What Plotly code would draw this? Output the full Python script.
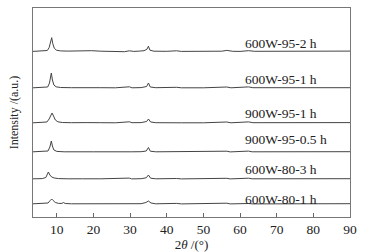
import plotly.graph_objects as go

labels = ["600W-95-2 h", "600W-95-1 h", "900W-95-1 h", "900W-95-0.5 h", "600W-80-3 h", "600W-80-1 h"]
offsets = [165.3, 129, 94, 65, 38, 13]
label_y = [174, 138, 104, 78, 48, 18]
x_ticks = [10, 20, 30, 40, 50, 60, 70, 80, 90]

s1 = [(3.5,0.3),(6,0.5),(7.4,1.2),(7.9,4),(8.3,10),(8.6,14),(8.9,8),(9.3,3.5),(9.9,1.5),(11,0.8),(13,0.6),(15,0.7),(17,1.1),(18.2,1.6),(19.5,1.0),(22,0.5),(25,0.2),(27,0.6),(28.5,0.0),(29.8,0.9),(31,0.3),(32.5,0.6),(33.8,1.0),(34.6,2.5),(35.0,5.5),(35.4,1.5),(36.5,0.5),(40,0.4),(42.7,0.9),(44,0.3),(48,0.2),(52,0.3),(55,0.5),(56.4,1.3),(58,0.4),(60,0.3),(62.3,1.0),(64,0.4),(68,0.5),(72,0.3),(76,0.6),(80,0.3),(84,0.7),(87,0.4),(90,0.6)]
s2 = [(3.5,0.2),(6,0.3),(7.5,1),(8.0,5),(8.3,11),(8.5,15),(8.8,8),(9.2,3),(9.8,1.2),(11,0.5),(14,0.3),(18,0.6),(22,0.3),(26,0.2),(29.8,1.2),(30.5,0.2),(33,0.4),(34.5,1.5),(35.0,5),(35.5,1),(37,0.3),(42.7,0.7),(44,0.2),(50,0.2),(56.4,1),(57.5,0.2),(62.3,1.1),(63.5,0.3),(70,0.2),(80,0.3),(90,0.3)]
s3 = [(3.5,0.2),(6,0.3),(7.3,1),(7.9,4),(8.4,8.5),(8.7,10),(9.1,7),(9.6,3),(10.3,1.2),(11.5,0.5),(14,0.3),(16,0.6),(18,0.4),(22,0.3),(26,0.2),(29.8,1.2),(30.5,0.3),(33,0.4),(34.5,1.5),(35.0,4),(35.6,1),(37,0.3),(42.7,0.8),(44,0.2),(50,0.2),(56.4,1),(57.5,0.2),(62.3,1.1),(63.5,0.3),(70,0.2),(80,0.3),(90,0.4)]
s4 = [(3.5,0.2),(6,0.3),(7.6,1),(8.1,5),(8.5,11),(8.8,6),(9.2,2),(10,0.6),(12,0.2),(20,0.2),(29.8,0.9),(30.3,0.2),(33,0.3),(34.4,1),(35.0,4.5),(35.5,0.8),(37,0.2),(42.7,0.5),(44,0.1),(56.4,0.8),(57.3,0.1),(62.3,0.9),(63.3,0.2),(90,0.3)]
s5 = [(3.5,0.2),(6,0.4),(7.0,1.5),(7.4,5),(7.7,7),(8.1,4),(8.6,2),(9.3,1),(10.5,0.4),(13,0.2),(16,0.6),(17,0.2),(22,0.2),(29.8,0.9),(30.4,0.1),(33,0.3),(34.4,1.2),(35.0,4),(35.6,0.8),(37,0.2),(42.7,0.5),(44,0.1),(56.4,0.7),(57.3,0.1),(62.3,0.8),(63.3,0.2),(90,0.3)]
s6 = [(3.5,0.2),(6,0.3),(7.6,1),(8.2,3.5),(8.6,5),(9.0,3.5),(9.6,1.5),(10.5,0.6),(11.4,0.6),(11.8,1.5),(12.3,0.5),(14,0.2),(18,0.3),(22,0.1),(29.8,0.8),(30.5,0.1),(33,0.3),(34.3,1.5),(35.0,3),(35.7,1),(37,0.2),(42.7,0.6),(44,0.1),(56.4,0.8),(57.3,0.1),(62.3,0.5),(63.5,0.1),(90,0.3)]
series = [s1, s2, s3, s4, s5, s6]

FONT = "Liberation Serif"
fig = go.Figure()
for s, off, lab, ly in zip(series, offsets, labels, label_y):
    xs = [p[0] for p in s]
    ys = [p[1] + off for p in s]
    fig.add_trace(go.Scatter(x=xs, y=ys, mode="lines",
                             line=dict(color="#444444", width=1), showlegend=False))
    fig.add_annotation(x=60.8, y=ly, text=lab, showarrow=False, xanchor="left",
                       yanchor="middle", font=dict(family=FONT, size=13.5, color="#222"))

fig.update_layout(
    width=382, height=252, margin=dict(l=33, r=32, t=8, b=35, pad=0),
    paper_bgcolor="white", plot_bgcolor="white",
    font=dict(family=FONT, size=13, color="#222"),
)
fig.update_xaxes(range=[3.5, 90], tickvals=x_ticks, ticks="inside", ticklen=4,
                 tickcolor="#666", showline=True, linecolor="#777", linewidth=1,
                 mirror=True, showgrid=False, zeroline=False, automargin=False,
                 tickfont=dict(size=13.5),
                 title=dict(text="2<i>θ</i> /(°)", standoff=0, font=dict(size=13)))
fig.update_yaxes(range=[0, 209], showticklabels=False, ticks="", showline=True,
                 linecolor="#777", linewidth=1, mirror=True, showgrid=False,
                 zeroline=False, automargin=False,
                 title=dict(text="Intensity /(a.u.)", standoff=10, font=dict(size=12)))
fig.write_html("out.html", config={"displayModeBar": False},
               post_script="document.body.style.margin='0';document.body.style.overflow='hidden';")
